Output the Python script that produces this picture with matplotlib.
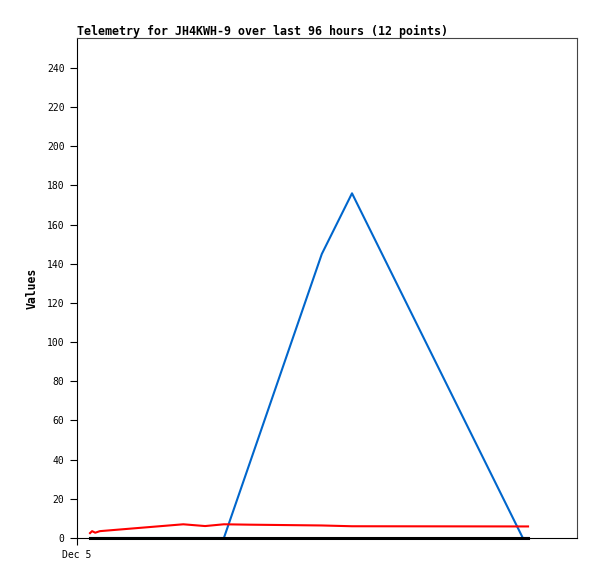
import numpy as np
import matplotlib.pyplot as plt

# hours since start of the 96 hour window (Dec 5 at 0)
hours = [2.5, 2.9, 3.5, 4.4, 20.4, 24.6, 28.2, 33.2, 47.0, 52.8, 85.6, 86.6]
red_vals = [2.5, 3.5, 2.7, 3.5, 7.0, 6.1, 7.0, 6.8, 6.4, 6.0, 5.9, 5.9]
blue_vals = [0, 0, 0, 0, 0, 0, 0, 38.5, 145, 176, 0, 0]
black_vals = [0] * 12

yticks = np.arange(0, 241, 20)
title = "Telemetry for JH4KWH-9 over last 96 hours (12 points)"

fig = plt.figure(figsize=(5.97, 5.79), dpi=100)
ax = fig.add_axes([77 / 597, 41 / 579, 500 / 597, 500 / 579])

ax.plot(hours, red_vals, color="#ff0000", lw=1.5, zorder=3)
ax.plot(hours, blue_vals, color="#0066cc", lw=1.5, zorder=2)
ax.plot(hours, black_vals, color="#000000", lw=2.2, zorder=4, clip_on=False)

ax.set_xlim(0, 96)
ax.set_ylim(0, 255.3)
ax.set_yticks(yticks)
ax.set_xticks([0])
ax.set_xticklabels(["Dec 5"])
ax.tick_params(axis="both", length=5, width=0.8, direction="out", pad=4,
               labelsize=7)
for lab in ax.get_xticklabels() + ax.get_yticklabels():
    lab.set_family("DejaVu Sans Mono")

for side in ["top", "right"]:
    ax.spines[side].set_color("#444444")
    ax.spines[side].set_linewidth(0.8)
for side in ["left", "bottom"]:
    ax.spines[side].set_color("#000000")
    ax.spines[side].set_linewidth(0.8)

ax.set_title(title, loc="left", pad=2, fontsize=8.35, fontweight="bold",
             family="DejaVu Sans Mono")
ax.set_ylabel("Values", fontsize=8.3, fontweight="bold",
              family="DejaVu Sans Mono", labelpad=6)

fig.savefig("out.png", dpi=100)
